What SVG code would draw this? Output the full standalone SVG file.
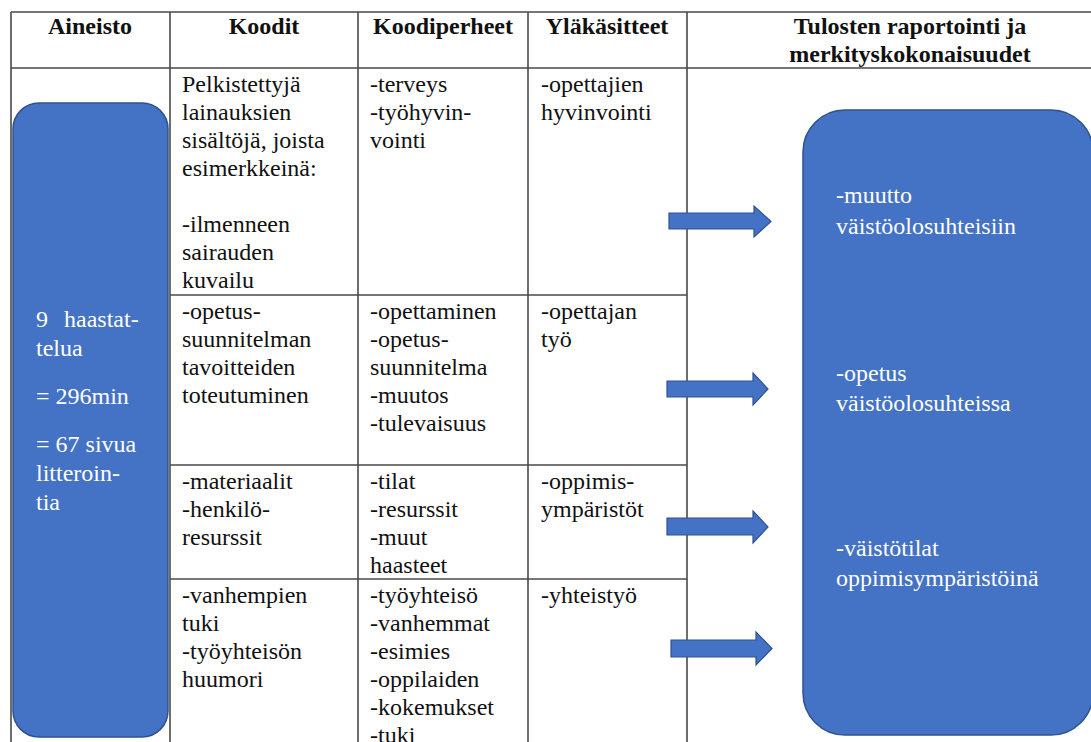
<svg xmlns="http://www.w3.org/2000/svg" width="1091" height="742" viewBox="0 0 1091 742">
<style>
.grid{stroke:#4a4a4a;stroke-width:1.6;fill:none}
.t{font-family:"Liberation Serif","Times New Roman",serif;font-size:24px;fill:#111}
.h{font-family:"Liberation Serif","Times New Roman",serif;font-size:24px;font-weight:bold;fill:#111;text-anchor:middle}
.w{font-family:"Liberation Serif","Times New Roman",serif;font-size:24px;fill:#ffffff}
.box{fill:#4472c4;stroke:#2f528f;stroke-width:1.5}
.arrow{fill:#4472c4;stroke:#2f528f;stroke-width:1.2}
</style>
<rect width="1091" height="742" fill="#ffffff"/>
<g id="table">
<path class="grid" d="M11 12H1091M11 68H1091M11 12V742M170 12V742M358 12V742M528 12V742M687 12V742M170 295H687M170 465H687M170 579H687"/>
</g>
<g id="headers">
<text class="h" x="90" y="34">Aineisto</text>
<text class="h" x="264" y="34">Koodit</text>
<text class="h" x="443" y="34">Koodiperheet</text>
<text class="h" x="607" y="34">Yläkäsitteet</text>
<text class="h" x="910" y="34">Tulosten raportointi ja</text>
<text class="h" x="910" y="62">merkityskokonaisuudet</text>
</g>
<g id="row1">
<text class="t" x="182" y="92">Pelkistettyjä</text>
<text class="t" x="182" y="120">lainauksien</text>
<text class="t" x="182" y="148">sisältöjä, joista</text>
<text class="t" x="182" y="176">esimerkkeinä:</text>
<text class="t" x="182" y="232">-ilmenneen</text>
<text class="t" x="182" y="260">sairauden</text>
<text class="t" x="182" y="288">kuvailu</text>
<text class="t" x="370" y="92">-terveys</text>
<text class="t" x="370" y="120">-työhyvin-</text>
<text class="t" x="370" y="148">vointi</text>
<text class="t" x="541" y="92">-opettajien</text>
<text class="t" x="541" y="120">hyvinvointi</text>
</g>
<g id="row2">
<text class="t" x="182" y="319">-opetus-</text>
<text class="t" x="182" y="347">suunnitelman</text>
<text class="t" x="182" y="375">tavoitteiden</text>
<text class="t" x="182" y="403">toteutuminen</text>
<text class="t" x="370" y="319">-opettaminen</text>
<text class="t" x="370" y="347">-opetus-</text>
<text class="t" x="370" y="375">suunnitelma</text>
<text class="t" x="370" y="403">-muutos</text>
<text class="t" x="370" y="431">-tulevaisuus</text>
<text class="t" x="541" y="319">-opettajan</text>
<text class="t" x="541" y="347">työ</text>
</g>
<g id="row3">
<text class="t" x="182" y="489">-materiaalit</text>
<text class="t" x="182" y="517">-henkilö-</text>
<text class="t" x="182" y="545">resurssit</text>
<text class="t" x="370" y="489">-tilat</text>
<text class="t" x="370" y="517">-resurssit</text>
<text class="t" x="370" y="545">-muut</text>
<text class="t" x="370" y="573">haasteet</text>
<text class="t" x="541" y="489">-oppimis-</text>
<text class="t" x="541" y="517">ympäristöt</text>
</g>
<g id="row4">
<text class="t" x="182" y="603">-vanhempien</text>
<text class="t" x="182" y="631">tuki</text>
<text class="t" x="182" y="659">-työyhteisön</text>
<text class="t" x="182" y="687">huumori</text>
<text class="t" x="370" y="603">-työyhteisö</text>
<text class="t" x="370" y="631">-vanhemmat</text>
<text class="t" x="370" y="659">-esimies</text>
<text class="t" x="370" y="687">-oppilaiden</text>
<text class="t" x="370" y="715">-kokemukset</text>
<text class="t" x="370" y="743">-tuki</text>
<text class="t" x="541" y="603">-yhteistyö</text>
</g>
<g id="aineisto">
<rect class="box" x="13" y="103" width="155" height="634" rx="26" ry="26"/>
<text class="w" y="327"><tspan x="36">9</tspan><tspan x="64">haastat-</tspan></text>
<text class="w" x="36" y="356">telua</text>
<text class="w" x="36" y="404">= 296min</text>
<text class="w" x="36" y="452">= 67 sivua</text>
<text class="w" x="36" y="481">litteroin-</text>
<text class="w" x="36" y="510">tia</text>
</g>
<g id="tulokset">
<rect class="box" x="803" y="110" width="290" height="625" rx="42" ry="42"/>
<text class="w" x="836" y="203">-muutto</text>
<text class="w" x="836" y="234">väistöolosuhteisiin</text>
<text class="w" x="836" y="381">-opetus</text>
<text class="w" x="836" y="411">väistöolosuhteissa</text>
<text class="w" x="836" y="556">-väistötilat</text>
<text class="w" x="836" y="586">oppimisympäristöinä</text>
</g>
<g id="connectors">
<path class="arrow" d="M669 213H754V206L771 221.5L754 237V229H669Z"/>
<path class="arrow" d="M667 381H753V373L768 389L753 405V397H667Z"/>
<path class="arrow" d="M667 518H753V511L768 527L753 543V535H667Z"/>
<path class="arrow" d="M671 640H756V632L772 648.5L756 665V657H671Z"/>
</g>
</svg>
